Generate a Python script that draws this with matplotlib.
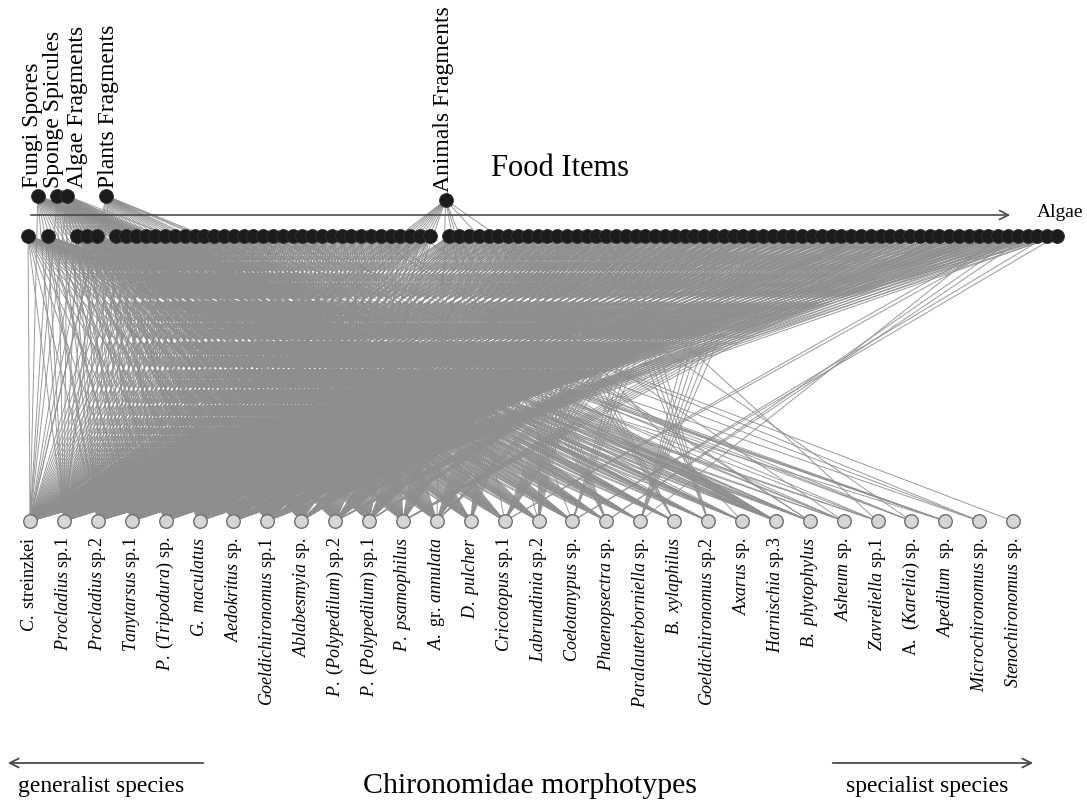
"""Red trofica: morfotipos de Chironomidae vs items alimentarios."""

import matplotlib

matplotlib.use("Agg")
import matplotlib.pyplot as plt  # noqa: E402
from matplotlib.collections import LineCollection  # noqa: E402

plt.rcParams["font.family"] = ["Liberation Serif", "DejaVu Serif"]
plt.rcParams["mathtext.fontset"] = "custom"
plt.rcParams["mathtext.rm"] = "Liberation Serif"
plt.rcParams["mathtext.it"] = "Liberation Serif:italic"

# Items alimentarios ordenados por frecuencia (106 en total, el resto son algas)
N_ITEMS = 106
ITEMS_NO_ALGA = {
    1: "Fungi Spores",
    3: "Sponge Spicules",
    4: "Algae Fragments",
    8: "Plants Fragments",
    42: "Animals Fragments",
}

# Morfotipos, de generalistas a especialistas
MORFOTIPOS = [
    r"$\mathit{C.}$ streinzkei",
    r"$\mathit{Procladius}$ sp.1",
    r"$\mathit{Procladius}$ sp.2",
    r"$\mathit{Tanytarsus}$ sp.1",
    r"$\mathit{P.\ (Tripodura)}$ sp.",
    r"$\mathit{G.\ maculatus}$",
    r"$\mathit{Aedokritus}$ sp.",
    r"$\mathit{Goeldichironomus}$ sp.1",
    r"$\mathit{Ablabesmyia}$ sp.",
    r"$\mathit{P.\ (Polypedilum)}$ sp.2",
    r"$\mathit{P.\ (Polypedilum)}$ sp.1",
    r"$\mathit{P.\ psamophilus}$",
    r"$\mathit{A.}$ gr. $\mathit{annulata}$",
    r"$\mathit{D.\ pulcher}$",
    r"$\mathit{Cricotopus}$ sp.1",
    r"$\mathit{Labrundinia}$ sp.2",
    r"$\mathit{Coelotanypus}$ sp.",
    r"$\mathit{Phaenopsectra}$ sp.",
    r"$\mathit{Paralauterborniella}$ sp.",
    r"$\mathit{B.\ xylaphilus}$",
    r"$\mathit{Goeldichironomus}$ sp.2",
    r"$\mathit{Axarus}$ sp.",
    r"$\mathit{Harnischia}$ sp.3",
    r"$\mathit{B.\ phytophylus}$",
    r"$\mathit{Asheum}$ sp.",
    r"$\mathit{Zavreliella}$ sp.1",
    r"A.  $\mathit{(Karelia)}$ sp.",
    r"$\mathit{Apedilum}$  sp.",
    r"$\mathit{Microchironomus}$ sp.",
    r"$\mathit{Stenochironomus}$ sp.",
]

# Dieta de cada morfotipo: rangos [inicio, fin) de items consumidos
DIETAS = [
    [(0, 106)],
    [(0, 100)],
    [(0, 88), (96, 106)],
    [(0, 80), (86, 104)],
    [(0, 75), (80, 100)],
    [(0, 70), (74, 96), (100, 106)],
    [(0, 64), (68, 92), (97, 106)],
    [(0, 58), (62, 86), (94, 100)],
    [(0, 50), (56, 78)],
    [(0, 46), (50, 72), (84, 90)],
    [(0, 42), (46, 66), (78, 82)],
    [(0, 38), (43, 60), (88, 94)],
    [(0, 34), (42, 43), (50, 64), (70, 74)],
    [(0, 30), (48, 58)],
    [(0, 26), (42, 43), (60, 70), (100, 102)],
    [(0, 24), (42, 43), (52, 60)],
    [(0, 22), (42, 43), (64, 68), (104, 106)],
    [(0, 20), (44, 50), (101, 103)],
    [(0, 18), (70, 76), (99, 100)],
    [(0, 16), (48, 52)],
    [(0, 14), (58, 62)],
    [(0, 12), (42, 43)],
    [(0, 10), (16, 30)],
    [(0, 8), (35, 37)],
    [(0, 4), (8, 9), (40, 41)],
    [(0, 3), (8, 9), (55, 56)],
    [(1, 2), (4, 5), (8, 9), (42, 43)],
    [(0, 2), (9, 12)],
    [(1, 2), (20, 21), (26, 27)],
    [(24, 25)],
]

COLOR_ARISTA = "#8e8e8e"
COLOR_ITEM = "#1c1c1c"
COLOR_MORFO = "#d6d6d6"

# Disposicion en pixeles de la figura
X0_ITEM, DX_ITEM = 28, 9.8
Y_ITEM, Y_DESTACADO = 236, 196
X0_MORFO, DX_MORFO = 30, 33.9
Y_MORFO = 521
# Ajustes finos de los items destacados (desplazamiento x, y) y de sus rotulos
AJUSTE_ITEM = {42: (6, 4)}
AJUSTE_ROTULO = {1: -5, 3: -4, 4: 10, 8: 2, 42: -2}


def pos_item(k):
    dx, dy = AJUSTE_ITEM.get(k, (0, 0))
    y = Y_DESTACADO if k in ITEMS_NO_ALGA else Y_ITEM
    return X0_ITEM + k * DX_ITEM + dx, y + dy


def pos_morfo(i):
    return X0_MORFO + i * DX_MORFO, Y_MORFO


fig = plt.figure(figsize=(10.87, 8.05), dpi=100)
ax = fig.add_axes([0, 0, 1, 1])
ax.set_xlim(0, 1087)
ax.set_ylim(805, 0)
ax.axis("off")

# Aristas
segmentos = []
for i, dieta in enumerate(DIETAS):
    for ini, fin in dieta:
        for k in range(ini, fin):
            segmentos.append([pos_morfo(i), pos_item(k)])
ax.add_collection(
    LineCollection(segmentos, colors=COLOR_ARISTA, linewidths=0.7, alpha=0.9, zorder=1)
)

# Nodos superiores (items)
xs_items = [pos_item(k)[0] for k in range(N_ITEMS)]
ys_items = [pos_item(k)[1] for k in range(N_ITEMS)]
ax.scatter(xs_items, ys_items, s=100, color=COLOR_ITEM, edgecolors="#333333",
           linewidths=0.6, zorder=3)
for k, nombre in ITEMS_NO_ALGA.items():
    x, y = pos_item(k)
    ax.text(x + AJUSTE_ROTULO[k], y - 8, nombre, rotation=90, ha="center",
            va="bottom", fontsize=17)

# Nodos inferiores (morfotipos)
xs_morfo = [pos_morfo(i)[0] for i in range(len(MORFOTIPOS))]
ax.scatter(xs_morfo, [Y_MORFO] * len(MORFOTIPOS), s=95, color=COLOR_MORFO,
           edgecolors="#6e6e6e", linewidths=1.0, zorder=3)
for x, etiqueta in zip(xs_morfo, MORFOTIPOS, strict=False):
    ax.text(x, Y_MORFO + 16, etiqueta, rotation=90, ha="center", va="top", fontsize=13)

# Ejes de referencia y titulos
ax.annotate("", xy=(1013, 215), xytext=(28, 215),
            arrowprops=dict(arrowstyle="->", color="#4a4a4a", lw=1.2,
                            mutation_scale=16))
ax.text(1037, 212, "Algae", fontsize=14, ha="left", va="center")
ax.text(560, 168, "Food Items", fontsize=22, ha="center", va="center")

ax.annotate("", xy=(5, 763), xytext=(206, 763),
            arrowprops=dict(arrowstyle="->", color="#4a4a4a", lw=1.3,
                            mutation_scale=16))
ax.annotate("", xy=(1036, 763), xytext=(830, 763),
            arrowprops=dict(arrowstyle="->", color="#4a4a4a", lw=1.3,
                            mutation_scale=16))
ax.text(101, 786, "generalist species", fontsize=17, ha="center", va="center")
ax.text(927, 786, "specialist species", fontsize=17, ha="center", va="center")
ax.text(530, 786, "Chironomidae morphotypes", fontsize=21.5, ha="center", va="center")

fig.savefig("out.png", dpi=100)
plt.close(fig)
